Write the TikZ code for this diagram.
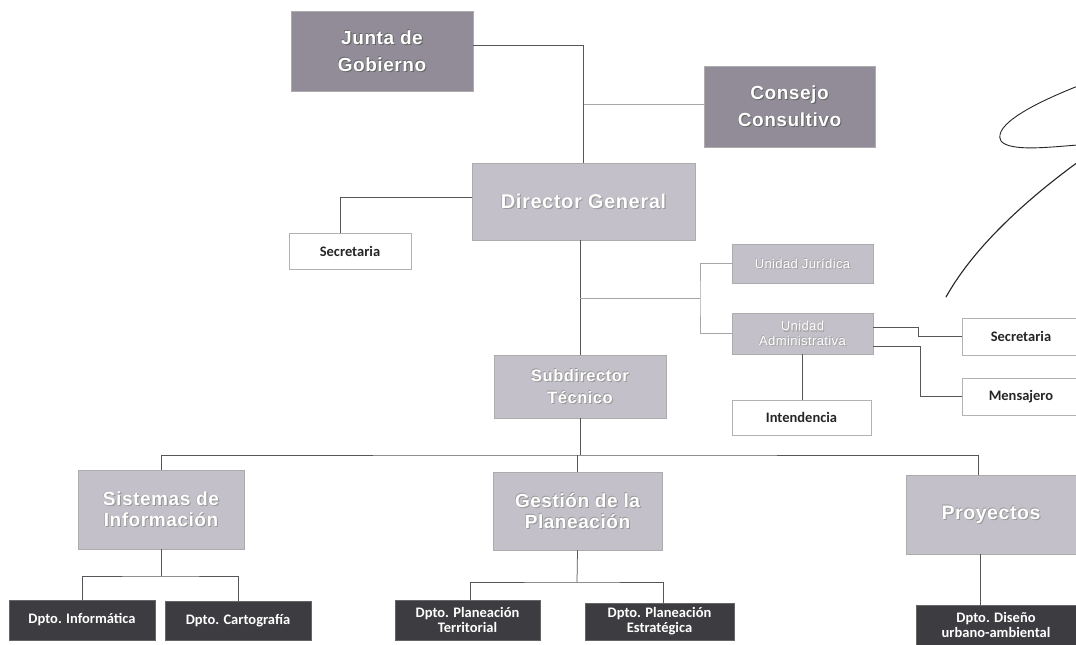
\documentclass[tikz,border=0pt]{standalone}
\usepackage{fontspec}
\setmainfont{Liberation Sans}
\newfontfamily\hdfont[LetterSpace=3]{Liberation Sans}
\newfontfamily\carl{Carlito}
\usetikzlibrary{calc}
\definecolor{darkbox}{HTML}{918C98}
\definecolor{lightbox}{HTML}{C3C0C9}
\definecolor{deptbox}{HTML}{3D3C40}
\definecolor{conn}{HTML}{55555A}
\tikzset{
  hbox/.style={draw=gray!65, line width=0.8pt, fill=#1, inner sep=0pt},
  wbox/.style={draw=gray!60, line width=0.7pt, fill=white, inner sep=0pt, font=\carl\bfseries\fontsize{14.5}{16}\selectfont, text=black!85},
  dbox/.style={draw=black!60, line width=0.8pt, fill=deptbox, inner sep=0pt, align=center, text=white, font=\carl\bfseries\fontsize{14.5}{15}\selectfont},
  lbl/.style={inner sep=0pt, align=center},
  link/.style={draw=conn, line width=0.75pt},
  pen/.style={draw=black!85, line width=1.1pt, line cap=round}
}
% name, x, y, w, h, fill, font, shadow colour, text
\newcommand\orgbox[9]{%
  \node[hbox=#6, minimum width=#4pt, minimum height=#5pt] (#1) at (#2,#3) {};
  \node[lbl, text=#8, font=#7] (#1-s) at ($(#1)+(1.1,1.1)$) {#9};
  \node[lbl, text=#8, font=#7] (#1-r) at ($(#1)+(-0.5,-0.5)$) {#9};
  \node[lbl, text=white, font=#7] (#1-t) at (#1) {#9};
}
\begin{document}
\begin{tikzpicture}[x=1pt,y=-1pt]
\useasboundingbox (0,0) rectangle (1076,645);
\fill[white] (0,0) rectangle (1076,645);

% upper level
\orgbox{junta}{382}{51}{182}{80}{darkbox}{\hdfont\bfseries\fontsize{19}{27}\selectfont}{black!60}{Junta de\\Gobierno}
\orgbox{consejo}{789.5}{106.5}{171}{81}{darkbox}{\hdfont\bfseries\fontsize{19}{27}\selectfont}{black!60}{Consejo\\Consultivo}
\orgbox{dg}{583.5}{201.5}{223}{77}{lightbox}{\hdfont\bfseries\fontsize{20}{22}\selectfont}{black!40}{Director General}
\orgbox{uj}{802.5}{263.5}{141}{39}{lightbox}{\hdfont\fontsize{13}{15}\selectfont}{black!35}{Unidad Jurídica}
\orgbox{ua}{802.5}{333.5}{141}{41}{lightbox}{\hdfont\fontsize{13}{14.5}\selectfont}{black!35}{Unidad\\Administrativa}
\orgbox{sub}{580}{386.5}{172}{63}{lightbox}{\hdfont\bfseries\fontsize{16.5}{22}\selectfont}{black!40}{Subdirector\\Técnico}
\orgbox{sis}{161}{509.5}{166}{79}{lightbox}{\hdfont\bfseries\fontsize{19}{21}\selectfont}{black!40}{Sistemas de\\Información}
\orgbox{ges}{577.5}{511}{169}{78}{lightbox}{\hdfont\bfseries\fontsize{19}{21}\selectfont}{black!40}{Gestión de la\\Planeación}
\orgbox{proy}{991}{514.5}{170}{79}{lightbox}{\hdfont\bfseries\fontsize{19.5}{21}\selectfont}{black!40}{Proyectos}

% white boxes
\node[wbox, minimum width=122pt, minimum height=36pt] (sec1) at (350,251) {Secretaria};
\node[wbox, minimum width=118pt, minimum height=37pt] (sec2) at (1021,336.5) {Secretaria};
\node[wbox, minimum width=118pt, minimum height=37pt] (mens) at (1021,396.5) {Mensajero};
\node[wbox, minimum width=139pt, minimum height=35pt] (int) at (801.5,417.5) {Intendencia};

% departments
\node[dbox, minimum width=146pt, minimum height=40pt] (inf) at (82,620) {Dpto. Informática};
\node[dbox, minimum width=146pt, minimum height=39pt] (car) at (238,620.5) {Dpto. Cartografía};
\node[dbox, minimum width=145pt, minimum height=40pt] (ter) at (467.5,620) {Dpto. Planeación\\Territorial};
\node[dbox, minimum width=149pt, minimum height=37pt] (est) at (659.5,621.5) {Dpto. Planeación\\Estratégica};
\node[dbox, minimum width=160pt, minimum height=40pt] (dis) at (996,625) {Dpto. Diseño\\urbano-ambiental};

% junction points
\coordinate (j1) at (580,298);
\coordinate (j2) at (700,298);
\coordinate (bus) at (580,455);
\coordinate (sb) at (161,576);
\coordinate (gb) at (577,582);

% connectors
\draw[link] ([yshift=6pt]junta.east) -| (dg.north);
\draw[link, draw=gray!70] ([yshift=2.5pt]consejo.west) -- ([yshift=2.5pt]consejo.west -| dg.north);
\draw[link] ([yshift=4.5pt]dg.west) -| ($(sec1.north)+(-10,0)$);
\draw[link] (dg.south -| sub.north) -- (sub.north);
\draw[link, draw=gray!70] (j1) -- (j2);
\draw[link, draw=gray!70] (uj.west) -| (j2) |- (ua.west);
\draw[link] ([yshift=6.5pt]ua.east) -- ++(45,0) |- (sec2.west);
\draw[link] ([yshift=-13pt]ua.east) -- ++(47,0) |- (mens.west);
\draw[link] (ua.south) -- (ua.south |- int.north);
\draw[link] (sub.south) -- (sub.south |- bus);
\draw[link] (sis.north) |- (bus) -| ([xshift=-13pt]proy.north);
\draw[link] (ges.north) -- (ges.north |- bus);
\draw[link] (sis.south) -- (sb);
\draw[link] (inf.north) |- (sb) -| (car.north);
\draw[link] (ges.south) -- (gb);
\draw[link] ([xshift=2.5pt]ter.north) |- (gb) -| ([xshift=3.5pt]est.north);
\draw[link] ([xshift=-11pt]proy.south) -- ([xshift=-11pt]proy.south |- dis.north);

% pen marks
\draw[pen, line width=0.9pt] (1078,86) .. controls (1035,103) and (992,125) .. (1001,141)
  .. controls (1010,152) and (1050,147) .. (1078,145);
\draw[pen] (1078,162) .. controls (1030,197) and (975,245) .. (946,297);
\end{tikzpicture}
\end{document}
